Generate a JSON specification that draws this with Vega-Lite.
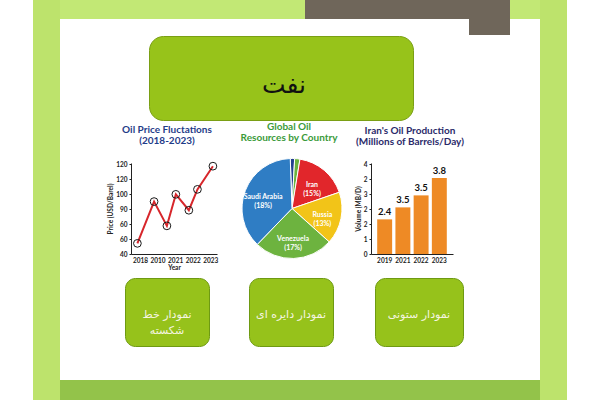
{
  "$schema": "https://vega.github.io/schema/vega-lite/v6.json",
  "background": "white",
  "padding": {"left": 33, "right": 33, "top": 0, "bottom": 0},
  "spacing": 0,
  "config": {
    "view": {"stroke": null},
    "concat": {"spacing": 0},
    "font": "Lato",
    "title": {"frame": "group", "anchor": "middle", "offset": 14, "fontSize": 10, "font": "Lato", "fontWeight": "bold", "subtitleFontSize": 10, "subtitleFont": "Lato", "subtitleFontWeight": "bold", "subtitlePadding": 1},
    "axis": {"grid": false, "domainColor": "#222", "tickColor": "#222", "labelFontSize": 6.5, "labelFontWeight": "bold", "labelColor": "#222", "titleFontSize": 6.5, "titleFontWeight": "bold", "titleColor": "#222", "labelFont": "Lato", "titleFont": "Lato", "tickSize": 2, "labelPadding": 2, "titlePadding": 2, "labelOverlap": false, "labelFlush": false}
  },
  "hconcat": [
    {"width": 27, "height": 400, "data": {"values": [{}]}, "mark": {"type": "text", "text": "", "fontSize": 0}, "view": {"fill": "#bde36c"}},
    {
      "spacing": 0,
      "vconcat": [
        {"spacing": 0, "hconcat": [
          {"width": 245, "height": 19, "data": {"values": [{}]}, "mark": {"type": "text", "text": "", "fontSize": 0}, "view": {"fill": "#c2e875"}},
          {"width": 205, "height": 19, "data": {"values": [{}]}, "mark": {"type": "text", "text": "", "fontSize": 0}, "view": {"fill": "#6f665a"}},
          {"width": 30, "height": 19, "data": {"values": [{}]}, "mark": {"type": "text", "text": "", "fontSize": 0}, "view": {"fill": "#c2e875"}}
        ]},
        {"spacing": 0, "hconcat": [
          {"width": 409, "height": 16, "data": {"values": [{}]}, "mark": {"type": "text", "text": "", "fontSize": 0}},
          {"width": 41, "height": 16, "data": {"values": [{}]}, "mark": {"type": "text", "text": "", "fontSize": 0}, "view": {"fill": "#6f665a"}}
        ]},
        {"spacing": 0, "hconcat": [
          {"width": 88, "height": 84, "data": {"values": [{}]}, "mark": {"type": "text", "text": "", "fontSize": 0}},
          {"width": 264, "height": 84, "data": {"values": [{"t": "نفت"}]}, "mark": {"type": "text", "fontSize": 25, "font": "DejaVu Sans", "color": "#111", "dy": 7, "dx": 3}, "encoding": {"text": {"field": "t", "type": "nominal"}}, "view": {"fill": "#97c31a", "stroke": "#7a9f14", "strokeWidth": 1, "cornerRadius": 14}}
        ]},
        {"spacing": 0, "bounds": "flush", "hconcat": [
          {"width": 71, "height": 91, "data": {"values": [{}]}, "mark": {"type": "text", "text": "", "fontSize": 0}},
          {
            "width": 86, "height": 91,
            "title": {"text": "Oil Price Fluctations", "subtitle": "(2018-2023)", "color": "#1f3c88", "subtitleColor": "#1f3c88", "dx": -7},
            "data": {"values": [
              {"pos": -0.15, "price": 50.7},
              {"pos": 0.8, "price": 92.7},
              {"pos": 1.53, "price": 68.3},
              {"pos": 2.04, "price": 100},
              {"pos": 2.78, "price": 84},
              {"pos": 3.27, "price": 105},
              {"pos": 4.15, "price": 128.3}
            ]},
            "encoding": {
              "x": {"field": "pos", "type": "quantitative", "scale": {"domain": [-0.514, 4.383], "nice": false, "zero": false}, "axis": {"values": [0, 1, 2, 3, 4], "labelExpr": "['2018','2010','2021','2022','2023'][datum.value]", "title": "Year", "ticks": false, "labelPadding": 3, "titlePadding": 1}},
              "y": {"field": "price", "type": "quantitative", "scale": {"domain": [40, 131.5], "nice": false, "zero": false}, "axis": {"values": [40, 55, 70, 85, 100, 115, 130], "labelExpr": "['40','60','60','90','100','120','120'][(datum.value-40)/15]", "title": "Price (USD/Barel)"}}
            },
            "layer": [
              {"mark": {"type": "line", "color": "#d7262b", "strokeWidth": 2}},
              {"mark": {"type": "point", "filled": false, "size": 60, "color": "#1a1a1a", "strokeWidth": 1, "opacity": 1}}
            ]
          },
          {"width": 25, "height": 91, "data": {"values": [{}]}, "mark": {"type": "text", "text": "", "fontSize": 0}},
          {
            "width": 100, "height": 91,
            "title": {"text": "Global Oil", "subtitle": "Resources by Country", "color": "#3a9a3a", "subtitleColor": "#3a9a3a", "dx": -3},
            "data": {"values": [
              {"country": "Other A", "share": 1.4, "rank": 1, "label": ""},
              {"country": "Other B", "share": 1.7, "rank": 2, "label": ""},
              {"country": "Iran", "share": 17.2, "rank": 3, "label": "Iran\n(15%)"},
              {"country": "Russia", "share": 16.9, "rank": 4, "label": "Russia\n(13%)"},
              {"country": "Venezuela", "share": 25.6, "rank": 5, "label": "Venezuela\n(17%)"},
              {"country": "Saudi Arabia", "share": 37.2, "rank": 6, "label": "Saudi Arabia\n(18%)"}
            ]},
            "encoding": {
              "theta": {"field": "share", "type": "quantitative", "stack": true, "scale": {"range": [-0.035, 6.248]}},
              "order": {"field": "rank", "type": "quantitative"}
            },
            "layer": [
              {"mark": {"type": "arc", "outerRadius": 50, "stroke": "white", "strokeWidth": 1}, "encoding": {"color": {"field": "country", "type": "nominal", "scale": {"domain": ["Other A", "Other B", "Iran", "Russia", "Venezuela", "Saudi Arabia"], "range": ["#23408f", "#6ab33e", "#e1262b", "#f2c418", "#6db33f", "#2f7dc4"]}, "legend": null}}},
              {"mark": {"type": "text", "radius": 31, "fill": "white", "fontSize": 7, "fontWeight": "bold", "lineBreak": "\n", "font": "Lato"}, "encoding": {"text": {"field": "label", "type": "nominal"}}}
            ]
          },
          {"width": 29, "height": 91, "data": {"values": [{}]}, "mark": {"type": "text", "text": "", "fontSize": 0}},
          {
            "width": 82, "height": 91,
            "title": {"text": "Iran's Oil Production", "subtitle": "(Millions of Barrels/Day)", "color": "#2b2a6a", "subtitleColor": "#2b2a6a", "dx": -2},
            "data": {"values": [
              {"year": "2019", "vol": 2.31, "label": "2.4"},
              {"year": "2021", "vol": 3.11, "label": "3.5"},
              {"year": "2022", "vol": 3.91, "label": "3.5"},
              {"year": "2023", "vol": 5.07, "label": "3.8"}
            ]},
            "encoding": {
              "x": {"field": "year", "type": "ordinal", "scale": {"paddingInner": 0.18, "paddingOuter": 0.34}, "axis": {"title": null, "labelAngle": 0, "ticks": false, "labelPadding": 3}},
              "y": {"field": "vol", "type": "quantitative", "scale": {"domain": [0, 6.07], "nice": false}, "axis": {"values": [0, 1, 2, 3, 4, 5, 6], "labelExpr": "['0','1','2','2','3','2','4'][datum.value]", "title": "Volume (MB/D)"}}
            },
            "layer": [
              {"mark": {"type": "bar", "color": "#ee8a25"}},
              {"mark": {"type": "text", "baseline": "bottom", "dy": -2, "fontSize": 9.5, "fontWeight": "bold", "color": "#111", "font": "Lato"}, "encoding": {"text": {"field": "label", "type": "nominal"}}}
            ]
          }
        ]},
        {"width": 480, "height": 6, "data": {"values": [{}]}, "mark": {"type": "text", "text": "", "fontSize": 0}},
        {"spacing": 0, "hconcat": [
          {"width": 64, "height": 68, "data": {"values": [{}]}, "mark": {"type": "text", "text": "", "fontSize": 0}},
          {"width": 84, "height": 68, "data": {"values": [{"t": "نمودار خط\nشکسته"}]}, "mark": {"type": "text", "lineBreak": "\n", "fontSize": 11, "color": "#f5f5e0", "font": "DejaVu Sans", "lineHeight": 16, "dy": 3}, "encoding": {"text": {"field": "t", "type": "nominal"}}, "view": {"fill": "#96c21b", "stroke": "#6e9a12", "strokeWidth": 1, "cornerRadius": 10}},
          {"width": 38, "height": 68, "data": {"values": [{}]}, "mark": {"type": "text", "text": "", "fontSize": 0}},
          {"width": 84, "height": 68, "data": {"values": [{"t": "نمودار دایره ای"}]}, "mark": {"type": "text", "fontSize": 11, "color": "#f5f5e0", "font": "DejaVu Sans", "dy": 3}, "encoding": {"text": {"field": "t", "type": "nominal"}}, "view": {"fill": "#96c21b", "stroke": "#6e9a12", "strokeWidth": 1, "cornerRadius": 10}},
          {"width": 40, "height": 68, "data": {"values": [{}]}, "mark": {"type": "text", "text": "", "fontSize": 0}},
          {"width": 88, "height": 68, "data": {"values": [{"t": "نمودار ستونی"}]}, "mark": {"type": "text", "fontSize": 11, "color": "#f5f5e0", "font": "DejaVu Sans", "dy": 3}, "encoding": {"text": {"field": "t", "type": "nominal"}}, "view": {"fill": "#96c21b", "stroke": "#6e9a12", "strokeWidth": 1, "cornerRadius": 10}}
        ]},
        {"width": 480, "height": 33, "data": {"values": [{}]}, "mark": {"type": "text", "text": "", "fontSize": 0}},
        {"width": 480, "height": 20, "data": {"values": [{}]}, "mark": {"type": "text", "text": "", "fontSize": 0}, "view": {"fill": "#93c34a"}}
      ]
    },
    {"width": 27, "height": 400, "data": {"values": [{}]}, "mark": {"type": "text", "text": "", "fontSize": 0}, "view": {"fill": "#bde36c"}}
  ]
}
